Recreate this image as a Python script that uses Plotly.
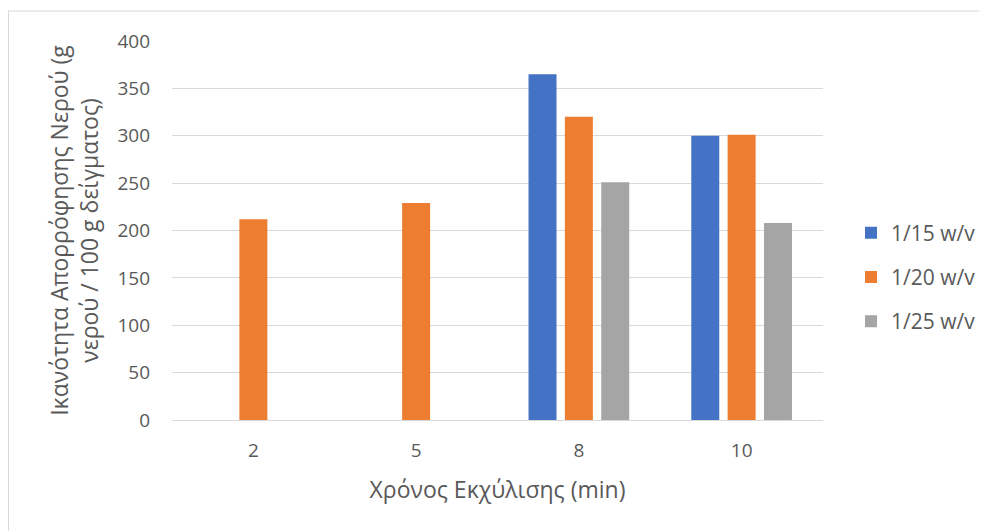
import plotly.graph_objects as go

categories = ["2", "5", "8", "10"]
series_names = ["1/15 w/v", "1/20 w/v", "1/25 w/v"]
s_1_15 = [None, None, 365, 300]
s_1_20 = [212, 229, 320, 301]
s_1_25 = [None, None, 251, 208]
colors = ["#4472C4", "#ED7D31", "#A5A5A5"]
y_ticks = [0, 50, 100, 150, 200, 250, 300, 350, 400]

OFF = 8  # page body offset
W, H = 987 - OFF, 531 - OFF
L, R, T, B = 172 - OFF, 823 - OFF, 41 - OFF, 420 - OFF

fig = go.Figure()
for i, (name, vals) in enumerate(zip(series_names, [s_1_15, s_1_20, s_1_25])):
    fig.add_trace(go.Bar(x=categories, y=vals, name=name, marker_color=colors[i],
                         marker_line_width=0, legendgroup=name))

font_fam = "Open Sans, Liberation Sans, sans-serif"
tc = "#595959"

def px_x(px):
    return (px - OFF - L) / (R - L)

def px_y(py):
    return (B - (py - OFF)) / (B - T)

fig.update_layout(
    width=W, height=H,
    margin=dict(l=L, r=W - R, t=T, b=H - B, pad=0, autoexpand=False),
    paper_bgcolor="white", plot_bgcolor="white",
    barmode="group", bargap=0.33, bargroupgap=0.23,
    font=dict(family=font_fam, color=tc, size=19),
    showlegend=True,
    legend=dict(x=px_x(851), y=px_y(277), xanchor="left", yanchor="middle",
                font=dict(size=21, color=tc), tracegroupgap=14,
                itemwidth=30, traceorder="grouped"),
    xaxis=dict(type="category", showgrid=False, showline=True, linecolor="#d9d9d9",
               linewidth=1, ticks="", tickfont=dict(size=19, color=tc), ticklabelstandoff=13,
               title=dict(text="Χρόνος Εκχύλισης (min)", font=dict(size=23, color=tc), standoff=20)),
    yaxis=dict(range=[0, 400], tickvals=y_ticks, showgrid=True, gridcolor="#d9d9d9",
               gridwidth=1, zeroline=False, showline=False, ticks="",
               tickfont=dict(size=19, color=tc), ticklabelstandoff=21,
               title=dict(text="Ικανότητα Απορρόφησης Νερού (g<br>νερού / 100 g δείγματος)",
                          font=dict(size=23, color=tc), standoff=12)),
    shapes=[
        dict(type="line", xref="paper", yref="paper", x0=px_x(8), x1=px_x(1000),
             y0=px_y(11), y1=px_y(11), line=dict(color="#d9d9d9", width=1)),
        dict(type="line", xref="paper", yref="paper", x0=px_x(8.5), x1=px_x(8.5),
             y0=px_y(11), y1=px_y(540), line=dict(color="#d9d9d9", width=1)),
    ],
)

fig.write_html("out.html")
